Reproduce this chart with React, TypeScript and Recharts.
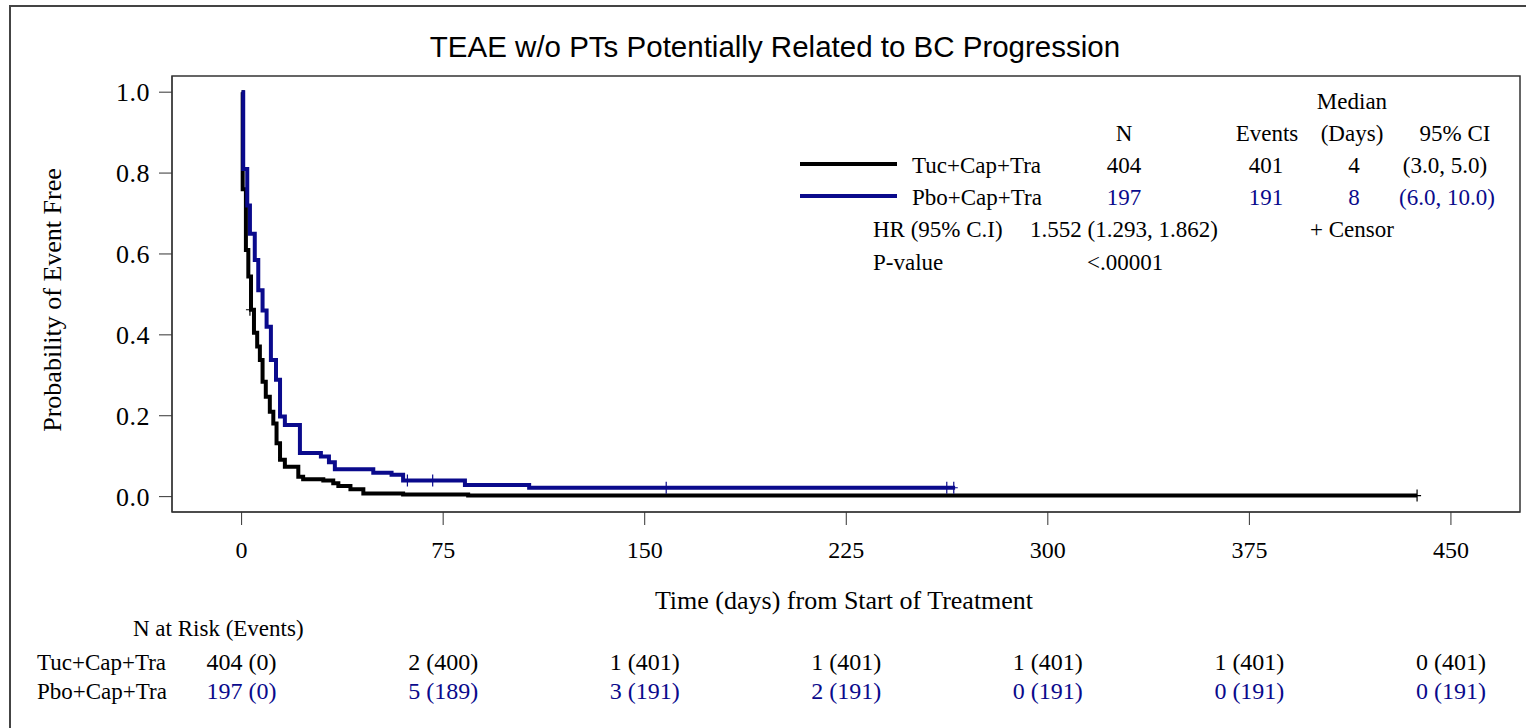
import React from 'react';
import { ComposedChart, Line, Scatter, XAxis, YAxis } from 'recharts';

// Kaplan-Meier step points (day, survival)
const tucTimes = [0, 0.4, 1.6, 2.5, 3.5, 4.6, 5.8, 6.8, 7.8, 9, 10.5, 11.8, 13, 14.3, 16.1, 21.1, 22.9, 30.4, 34.1, 36, 40.5, 45.3, 60.1, 84.3, 437.4];
const tucSurv = [1.0, 0.76, 0.61, 0.544, 0.462, 0.405, 0.371, 0.338, 0.284, 0.247, 0.21, 0.181, 0.132, 0.091, 0.074, 0.049, 0.043, 0.04, 0.033, 0.026, 0.018, 0.008, 0.005, 0.0025, 0.0025];
const pboTimes = [0, 0.6, 2.1, 3.1, 4.9, 6.2, 7.8, 9.3, 10.9, 12.8, 14.3, 16.1, 21.7, 29.5, 32.5, 34.7, 49, 55.8, 60.1, 83.1, 107, 265.5];
const pboSurv = [1.0, 0.81, 0.72, 0.65, 0.585, 0.51, 0.46, 0.42, 0.338, 0.289, 0.198, 0.177, 0.108, 0.099, 0.085, 0.068, 0.059, 0.054, 0.04, 0.029, 0.022, 0.022];

const tucCensorT = [3.1, 437.4];
const tucCensorS = [0.462, 0.0025];
const pboCensorT = [61.7, 71.1, 158, 262.4, 265];
const pboCensorS = [0.04, 0.04, 0.022, 0.022, 0.022];

const xTicks = [0, 75, 150, 225, 300, 375, 450];
const yTicks = [0, 0.2, 0.4, 0.6, 0.8, 1.0];

const tucAtRisk = [404, 2, 1, 1, 1, 1, 0];
const tucEvents = [0, 400, 401, 401, 401, 401, 401];
const pboAtRisk = [197, 5, 3, 2, 0, 0, 0];
const pboEvents = [0, 189, 191, 191, 191, 191, 191];

const BLUE = '#0a0a8c';
const SERIF = '"Liberation Serif", "Times New Roman", serif';

const tucData = tucTimes.map((t, i) => ({ t, s: tucSurv[i] }));
const pboData = pboTimes.map((t, i) => ({ t, s: pboSurv[i] }));
const tucCensor = tucCensorT.map((t, i) => ({ t, s: tucCensorS[i] }));
const pboCensor = pboCensorT.map((t, i) => ({ t, s: pboCensorS[i] }));

const censorMark = (color: string) => (props: any) => {
  const { cx, cy } = props;
  return (
    <path d={`M${cx},${cy - 6}V${cy + 6}M${cx - 4},${cy}H${cx + 4}`} stroke={color} strokeWidth={1.2} fill="none" />
  );
};

const XTick = (props: any) => {
  const { x, y, payload, index } = props;
  return (
    <g fontFamily={SERIF} fontSize={24} textAnchor="middle" dominantBaseline="central">
      <text x={x} y={y + 23} fill="#000">{payload.value}</text>
      <text x={x} y={y + 135} fill="#000">{`${tucAtRisk[index]} (${tucEvents[index]})`}</text>
      <text x={x} y={y + 164} fill={BLUE}>{`${pboAtRisk[index]} (${pboEvents[index]})`}</text>
    </g>
  );
};

const App: React.FC = () => {
  return (
    <div style={{ position: 'absolute', left: 0, top: 0, width: 1526, height: 728, background: '#fff' }}>
      <ComposedChart
        width={1526}
        height={728}
        margin={{ top: 76, right: 6, bottom: 186, left: 112 }}
        style={{ position: 'absolute', left: 0, top: 0 }}
      >
        <XAxis
          type="number"
          dataKey="t"
          domain={[-25.9, 475.7]}
          ticks={xTicks}
          allowDataOverflow
          height={30}
          tickSize={13}
          tickMargin={2}
          stroke="#333"
          tick={<XTick />}
        />
        <YAxis
          type="number"
          dataKey="s"
          domain={[-0.038, 1.04]}
          ticks={yTicks}
          allowDataOverflow
          width={60}
          tickSize={13}
          tickMargin={9}
          stroke="#333"
          tick={{ fill: '#000', fontSize: 26, fontFamily: SERIF, letterSpacing: 0.5 }}
          tickFormatter={(v: number) => v.toFixed(1)}
        />
        <Line data={tucData} dataKey="s" type="stepAfter" stroke="#000" strokeWidth={4} dot={false} activeDot={false} isAnimationActive={false} />
        <Line data={pboData} dataKey="s" type="stepAfter" stroke={BLUE} strokeWidth={4} dot={false} activeDot={false} isAnimationActive={false} />
        <Scatter data={tucCensor} dataKey="s" shape={censorMark('#000')} isAnimationActive={false} />
        <Scatter data={pboCensor} dataKey="s" shape={censorMark(BLUE)} isAnimationActive={false} />
      </ComposedChart>

      <svg width={1526} height={728} style={{ position: 'absolute', left: 0, top: 0, pointerEvents: 'none' }}>
        {/* outer frame */}
        <path d="M10,728V6H1526" stroke="#444" strokeWidth={2} fill="none" />
        {/* plot box */}
        <rect x={172} y={76} width={1348} height={436} stroke="#333" strokeWidth={1.5} fill="none" />

        <text x={775} y={46} textAnchor="middle" dominantBaseline="central" fontFamily='"Liberation Sans", Arial, sans-serif' fontSize={29.5}>
          TEAE w/o PTs Potentially Related to BC Progression
        </text>

        <g fontFamily={SERIF} fontSize={26} dominantBaseline="central" textAnchor="middle">
          <text transform="translate(52,300) rotate(-90)">Probability of Event Free</text>
          <text x={844} y={600}>Time (days) from Start of Treatment</text>
        </g>

        {/* legend table */}
        <g fontFamily={SERIF} fontSize={23} dominantBaseline="central">
          <g textAnchor="middle">
            <text x={1352} y={101}>Median</text>
            <text x={1124} y={133}>N</text>
            <text x={1267} y={133}>Events</text>
            <text x={1352} y={133}>(Days)</text>
            <text x={1455} y={133}>95% CI</text>
            <text x={1124} y={165}>404</text>
            <text x={1266} y={165}>401</text>
            <text x={1354} y={165}>4</text>
            <text x={1445} y={165}>(3.0, 5.0)</text>
            <text x={1124} y={197} fill={BLUE}>197</text>
            <text x={1266} y={197} fill={BLUE}>191</text>
            <text x={1354} y={197} fill={BLUE}>8</text>
            <text x={1447} y={197} fill={BLUE}>(6.0, 10.0)</text>
          </g>
          <line x1={800} x2={897} y1={164} y2={164} stroke="#000" strokeWidth={4} />
          <line x1={800} x2={897} y1={196} y2={196} stroke={BLUE} strokeWidth={4} />
          <text x={912} y={165}>Tuc+Cap+Tra</text>
          <text x={912} y={197}>Pbo+Cap+Tra</text>
          <text x={873} y={229}>HR (95% C.I)</text>
          <text x={1030} y={229}>1.552 (1.293, 1.862)</text>
          <text x={1310} y={229}>+ Censor</text>
          <text x={873} y={262}>P-value</text>
          <text x={1087} y={262}>&lt;.00001</text>
        </g>

        {/* at-risk table labels */}
        <g fontFamily={SERIF} fontSize={23} dominantBaseline="central">
          <text x={133} y={628}>N at Risk (Events)</text>
          <text x={37} y={662}>Tuc+Cap+Tra</text>
          <text x={37} y={691}>Pbo+Cap+Tra</text>
        </g>
      </svg>
    </div>
  );
};

export default App;
